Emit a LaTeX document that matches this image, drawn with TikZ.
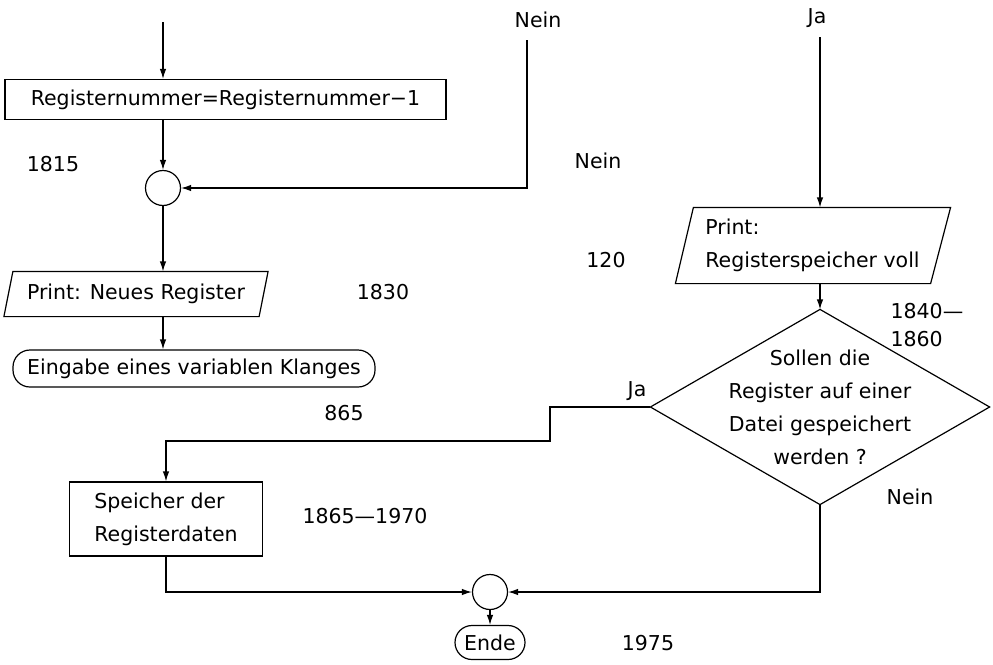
\documentclass[tikz,border=0pt]{standalone}
\usepackage{fontspec}
\setmainfont{DejaVu Sans}
\usetikzlibrary{arrows.meta,calc}
\begin{document}
\begin{tikzpicture}[x=1pt,y=-1pt,
  font=\fontsize{20.5}{33}\selectfont,
  line width=1.2pt,
  flow/.style={-{Latex[length=10pt,width=6.5pt]}},
  procbox/.style={draw,rectangle,inner sep=0pt},
  iobox/.style={rectangle,inner sep=0pt},
  termbox/.style={draw,rectangle,rounded corners=17pt,inner sep=0pt},
  junction/.style={draw,circle,minimum size=35pt,inner sep=0pt},
  decision/.style={rectangle,inner sep=0pt,align=center},
  lbl/.style={inner sep=0pt}
]
\useasboundingbox (0,0) rectangle (993,664);

% left column
\coordinate (start) at (163,22);
\node[procbox,minimum width=441pt,minimum height=40pt] (decr) at (225.5,99.5) {Registernummer=Registernummer−1};
\node[junction] (j1) at (163,188) {};
\node[iobox,minimum width=254pt,minimum height=44pt] (p1) at (136,294) {Print: Neues Register};
\node[termbox,minimum width=362pt,minimum height=37pt] (t1) at (194,368.5) {Eingabe eines variablen Klanges};

% input/output parallelogram on the left
\draw ($(p1.south west)+(-4.5,0)$) -- ($(p1.north west)+(4.5,0)$) -- ($(p1.north east)+(4.5,0)$) -- ($(p1.south east)+(-4.5,0)$) -- cycle;

% right column
\coordinate (neinTop) at (527,40);
\coordinate (jaTop) at (820,37);
\node[iobox,minimum width=255pt,minimum height=75pt,align=left] (p2) at (812.5,245.5) {Print:\\Registerspeicher voll};
\draw ($(p2.south west)+(-9,0)$) -- ($(p2.north west)+(9,0)$) -- ($(p2.north east)+(10,0)$) -- ($(p2.south east)+(-10,0)$) -- cycle;

% decision: the diamond is drawn through the mid-points of the node's sides
\node[decision,minimum width=338pt,minimum height=194pt] (ask) at (820,407) {Sollen die\\Register auf einer\\Datei gespeichert\\werden ?};
\draw (ask.north) -- (ask.east) -- (ask.south) -- (ask.west) -- cycle;

% storage and end
\coordinate (jaBend) at (550,441);
\node[procbox,minimum width=193pt,minimum height=74pt,align=left] (store) at (166,519) {Speicher der\\Registerdaten};
\node[junction] (j2) at (490,592) {};
\node[termbox,minimum width=70pt,minimum height=34pt] (ende) at (490,642.5) {Ende};

% connectors
\draw[flow] (start) -- (start |- decr.north);
\draw[flow] (start |- decr.south) -- (j1.north);
\draw[flow] (neinTop) |- (j1.east);
\draw[flow] (j1.south) -- (j1.south |- p1.north);
\draw[flow] (j1 |- p1.south) -- (j1 |- t1.north);
\draw[flow] (jaTop) -- (jaTop |- p2.north);
\draw[flow] (jaTop |- p2.south) -- (ask.north);
\draw[flow] (ask.west) -| (jaBend) -| (store.north);
\draw[flow] (store.south) |- (j2.west);
\draw[flow] (ask.south) |- (j2.east);
\draw[flow] (j2.south) -- (ende.north);

% labels
\node[lbl] (lNeinTop) at (538,20) {Nein};
\node[lbl] (lJaTop) at (817,18) {Ja};
\node[lbl] (lNeinMid) at (598,161) {Nein};
\node[lbl] (l120) at (606,260) {120};
\node[lbl,anchor=west] (l1840) at (890,311) {1840—};
\node[lbl,anchor=west] (l1860) at (890,339) {1860};
\node[lbl] (l1815) at (53,164) {1815};
\node[lbl] (l1830) at (383,292) {1830};
\node[lbl] (l865) at (344,413) {865};
\node[lbl] (l1865) at (365,516) {1865—1970};
\node[lbl] (lJaLeft) at (637,391) {Ja};
\node[lbl] (lNeinRight) at (910,497) {Nein};
\node[lbl] (l1975) at (648,643) {1975};
\end{tikzpicture}
\end{document}
